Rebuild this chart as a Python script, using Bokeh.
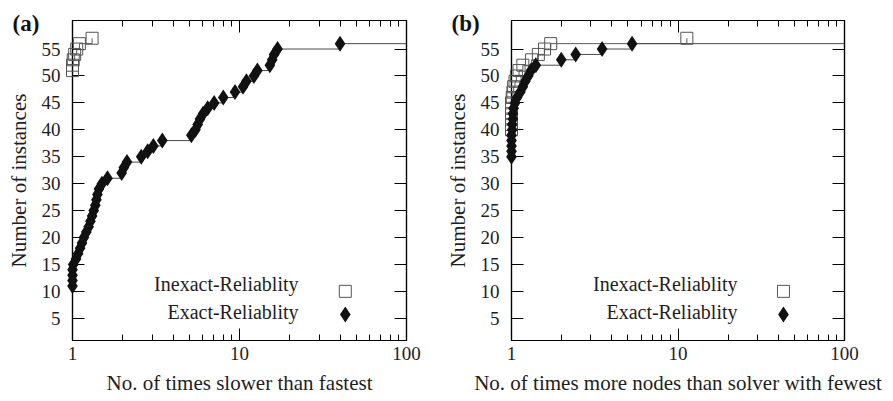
from bokeh.plotting import figure
from bokeh.layouts import row
from bokeh.models import FixedTicker, LinearAxis, LogAxis, Label, Range1d, PrintfTickFormatter
from bokeh.embed import file_html
from bokeh.resources import INLINE

# ---------------- data ----------------
# Panel (a): performance profile on time
a_inexact_x = [1.00, 1.00, 1.01, 1.03, 1.06, 1.10, 1.31]
a_inexact_y = [51, 52, 53, 54, 55, 56, 57]

a_exact_x = [1.00, 1.00, 1.00, 1.00, 1.01, 1.05, 1.08, 1.11, 1.14, 1.17,
             1.21, 1.25, 1.28, 1.31, 1.34, 1.37, 1.39, 1.41, 1.44, 1.50,
             1.62, 1.97, 2.03, 2.12, 2.58, 2.82, 3.05, 3.45, 5.15, 5.45,
             5.62, 5.80, 6.05, 6.45, 7.05, 8.00, 9.40, 10.5, 11.0, 12.2,
             12.8, 15.2, 15.7, 16.1, 16.9, 40.0]
a_exact_y = [11, 12, 13, 14, 15, 16, 17, 18, 19, 20,
             21, 22, 23, 24, 25, 26, 27, 28, 29, 30,
             31, 32, 33, 34, 35, 36, 37, 38, 39, 40,
             41, 42, 43, 44, 45, 46, 47, 48, 49, 50,
             51, 52, 53, 54, 55, 56]

# Panel (b): performance profile on nodes
b_inexact_x = [1.00, 1.00, 1.00, 1.00, 1.00, 1.00, 1.01, 1.02, 1.03, 1.05,
               1.07, 1.11, 1.17, 1.32, 1.45, 1.58, 1.72, 11.3]
b_inexact_y = [40, 41, 42, 43, 44, 45, 46, 47, 48, 49,
               50, 51, 52, 53, 54, 55, 56, 57]

b_exact_x = [1.00, 1.00, 1.00, 1.00, 1.00, 1.01, 1.01, 1.02, 1.02, 1.03,
             1.05, 1.08, 1.13, 1.17, 1.21, 1.26, 1.31, 1.40, 1.99, 2.43,
             3.50, 5.30]
b_exact_y = [35, 36, 37, 38, 39, 40, 41, 42, 43, 44,
             45, 46, 47, 48, 49, 50, 51, 52, 53, 54,
             55, 56]

x_major_ticks = [1, 10, 100]
x_minor_ticks = [2, 3, 4, 5, 6, 7, 8, 9, 20, 30, 40, 50, 60, 70, 80, 90]
y_major_ticks = [5, 10, 15, 20, 25, 30, 35, 40, 45, 50, 55]

series_names = ["Inexact-Reliablity", "Exact-Reliablity"]
y_label = "Number of instances"
x_label_a = "No. of times slower than fastest"
x_label_b = "No. of times more nodes than solver with fewest"

FONT = "Liberation Serif"
TXT = "#1e1e1e"
X_MAX = 100


def style_axis(ax, ticker, labels=True):
    ax.ticker = ticker
    ax.axis_line_color = "black"
    ax.axis_line_width = 1.2
    ax.major_tick_line_color = "black"
    ax.minor_tick_line_color = "black"
    ax.major_tick_in = 12
    ax.major_tick_out = 0
    ax.minor_tick_in = 6
    ax.minor_tick_out = 0
    if labels:
        ax.major_label_text_font = FONT
        ax.major_label_text_font_size = "19px"
        ax.major_label_text_color = TXT
        ax.axis_label_text_font = FONT
        ax.axis_label_text_font_size = "21px"
        ax.axis_label_text_font_style = "normal"
        ax.axis_label_text_color = TXT
    else:
        ax.major_label_text_font_size = "1px"
        ax.major_label_text_color = None
        ax.major_label_standoff = 0


def make_panel(tag, xlabel, inx, iny, exx, exy, frame_w, right_border):
    p = figure(frame_width=frame_w, frame_height=320,
               x_axis_type="log", x_range=Range1d(1, X_MAX),
               y_range=Range1d(0.87, 60.3),
               output_backend="svg", toolbar_location=None,
               min_border_left=72, min_border_top=20,
               min_border_right=right_border, min_border_bottom=0)
    p.grid.visible = False
    p.outline_line_color = "black"
    p.outline_line_width = 1.2
    p.background_fill_color = "white"
    p.border_fill_color = "white"

    # panel tag "(a)" / "(b)" as the plot title, nudged down with a tight empty first line
    p.title.text = "\n" + tag
    p.title.text_line_height = 0.15
    p.title.align = "left"
    p.title.offset = -60
    p.title.standoff = -30
    p.title.text_font = FONT
    p.title.text_font_style = "bold"
    p.title.text_font_size = "23px"
    p.title.text_color = "#111111"

    xt = FixedTicker(ticks=x_major_ticks, minor_ticks=x_minor_ticks)
    yt = FixedTicker(ticks=y_major_ticks, minor_ticks=[])

    xa = p.xaxis[0]
    style_axis(xa, xt)
    xa.formatter = PrintfTickFormatter(format="%d")
    xa.axis_label = xlabel
    xa.major_label_standoff = 6
    xa.axis_label_standoff = 8

    ya = p.yaxis[0]
    style_axis(ya, yt)
    ya.axis_label = y_label
    ya.major_label_standoff = 12
    ya.axis_label_standoff = 8

    top = LogAxis()
    style_axis(top, FixedTicker(ticks=x_major_ticks, minor_ticks=x_minor_ticks), labels=False)
    p.add_layout(top, "above")
    right = LinearAxis()
    style_axis(right, FixedTicker(ticks=y_major_ticks, minor_ticks=[]), labels=False)
    p.add_layout(right, "right")

    # step curves (exact curve continues to the right border)
    p.step(inx, iny, mode="after", line_color="#5a5a5a", line_width=1)
    p.step(exx + [X_MAX], exy + [exy[-1]], mode="after", line_color="#4a4a4a", line_width=1)

    p.scatter(inx, iny, marker="square", size=12, fill_color=None,
              line_color="#555555", line_width=1, level="overlay")
    p.scatter(exx, exy, marker="diamond", size=16, fill_color="#111111",
              line_color=None, level="overlay")

    # legend (text left, sample right)
    p.add_layout(Label(x=226, y=57, x_units="screen", y_units="screen",
                       text=series_names[0], text_align="right", text_baseline="middle",
                       text_font=FONT, text_font_size="20px", text_color=TXT))
    p.add_layout(Label(x=226, y=29, x_units="screen", y_units="screen",
                       text=series_names[1], text_align="right", text_baseline="middle",
                       text_font=FONT, text_font_size="20px", text_color=TXT))
    p.scatter([43], [10], marker="square", size=12, fill_color=None,
              line_color="#555555", line_width=1)
    p.scatter([43], [5.7], marker="diamond", size=16, fill_color="#111111",
              line_color=None)
    return p


pa = make_panel("(a)", x_label_a, a_inexact_x, a_inexact_y, a_exact_x, a_exact_y,
                334, 33)
pb = make_panel("(b)", x_label_b, b_inexact_x, b_inexact_y, b_exact_x, b_exact_y,
                333, 49)

layout = row(pa, pb)
open("out.html", "w").write(file_html(layout, INLINE))
